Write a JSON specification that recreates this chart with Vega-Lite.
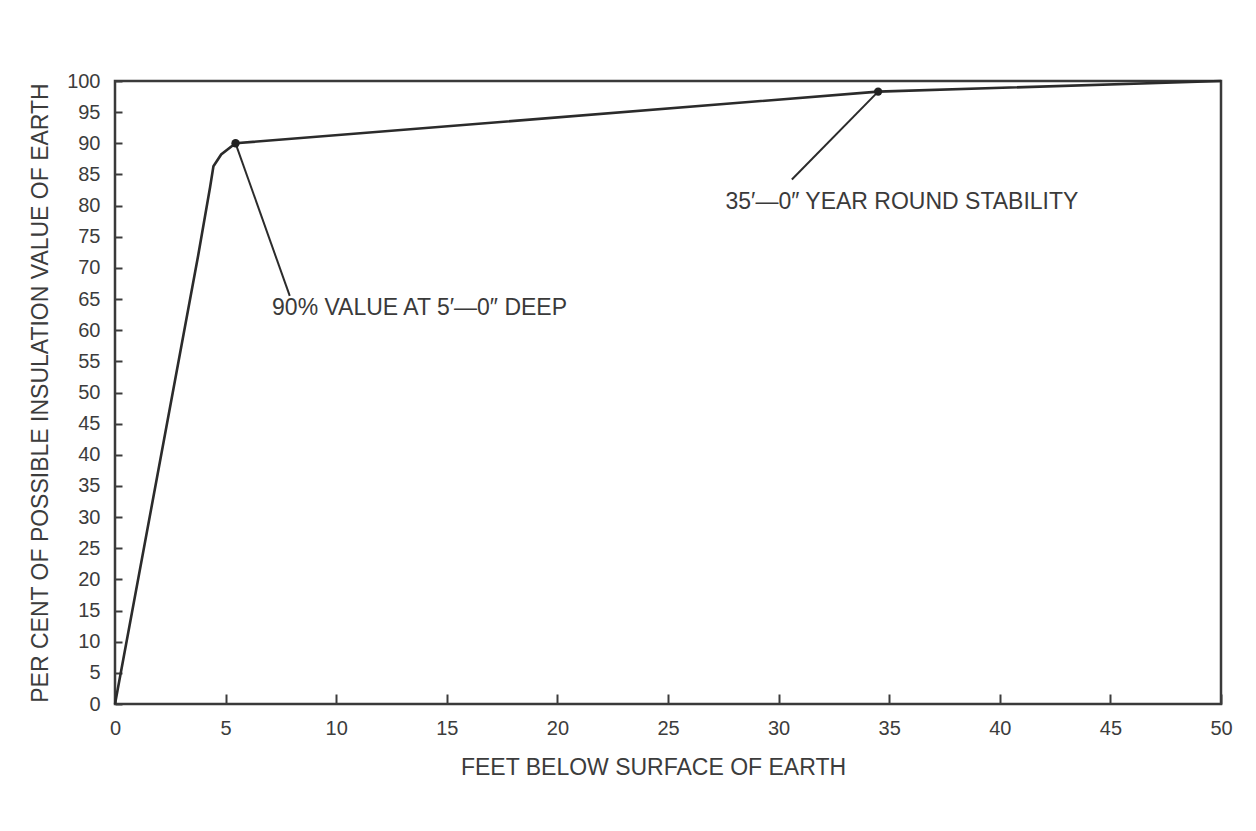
{
  "$schema": "https://vega.github.io/schema/vega-lite/v6.json",
  "width": 1106,
  "height": 623,
  "autosize": {"type": "none"},
  "padding": {"left": 115, "top": 81, "right": 35, "bottom": 127},
  "background": "white",
  "config": {
    "font": "Liberation Sans",
    "view": {"stroke": "#3a3a3a", "strokeWidth": 2.5},
    "axis": {
      "grid": false,
      "domain": false,
      "zindex": 1,
      "labelFont": "Liberation Sans",
      "labelFontSize": 20,
      "labelColor": "#3c3c3c",
      "labelOverlap": false,
      "tickColor": "#3c3c3c",
      "tickWidth": 2,
      "titleFont": "Liberation Sans",
      "titleFontSize": 23,
      "titleFontWeight": "normal",
      "titleColor": "#3c3c3c"
    }
  },
  "datasets": {
    "curve": [
      {"feet": 0, "pct": 0},
      {"feet": 3.76, "pct": 72},
      {"feet": 4.3, "pct": 83},
      {"feet": 4.45, "pct": 86.3},
      {"feet": 4.8, "pct": 88.2},
      {"feet": 5.45, "pct": 90},
      {"feet": 34.5, "pct": 98.3},
      {"feet": 50, "pct": 100}
    ],
    "markers": [
      {"feet": 5.45, "pct": 90},
      {"feet": 34.5, "pct": 98.3}
    ],
    "pointers": [
      {"feet": 5.45, "pct": 90, "feet2": 7.9, "pct2": 65.5},
      {"feet": 34.5, "pct": 98.3, "feet2": 30.6, "pct2": 84.2}
    ],
    "notes": [
      {"feet": 7.1, "pct": 63.5, "label": "90% VALUE AT 5′—0″ DEEP"},
      {"feet": 27.6, "pct": 80.6, "label": "35′—0″ YEAR ROUND STABILITY"}
    ]
  },
  "encoding": {
    "x": {
      "field": "feet",
      "type": "quantitative",
      "scale": {"domain": [0, 50], "nice": false, "zero": false},
      "axis": {
        "title": "FEET BELOW SURFACE OF EARTH",
        "values": [0, 5, 10, 15, 20, 25, 30, 35, 40, 45, 50],
        "tickCount": 50,
        "tickSize": -10,
        "labelPadding": 24,
        "labelFlush": false,
        "titlePadding": 18,
        "titleX": 538
      }
    },
    "y": {
      "field": "pct",
      "type": "quantitative",
      "scale": {"domain": [0, 100], "nice": false},
      "axis": {
        "title": "PER CENT OF POSSIBLE INSULATION VALUE OF EARTH",
        "values": [0, 5, 10, 15, 20, 25, 30, 35, 40, 45, 50, 55, 60, 65, 70, 75, 80, 85, 90, 95, 100],
        "tickCount": 100,
        "tickSize": -7,
        "labelPadding": 22,
        "labelFlush": false,
        "labelOverlap": false,
        "titlePadding": 14
      }
    }
  },
  "layer": [
    {
      "data": {"name": "curve"},
      "mark": {"type": "line", "color": "#2b2b2b", "strokeWidth": 2.6, "interpolate": "linear"}
    },
    {
      "data": {"name": "pointers"},
      "mark": {"type": "rule", "color": "#2b2b2b", "strokeWidth": 2},
      "encoding": {
        "x2": {"field": "feet2"},
        "y2": {"field": "pct2"}
      }
    },
    {
      "data": {"name": "markers"},
      "mark": {"type": "circle", "color": "#222222", "opacity": 1, "size": 70}
    },
    {
      "data": {"name": "notes"},
      "mark": {"type": "text", "align": "left", "baseline": "middle", "fontSize": 23, "color": "#3a3a3a", "font": "Liberation Sans"},
      "encoding": {
        "text": {"field": "label"}
      }
    }
  ]
}
